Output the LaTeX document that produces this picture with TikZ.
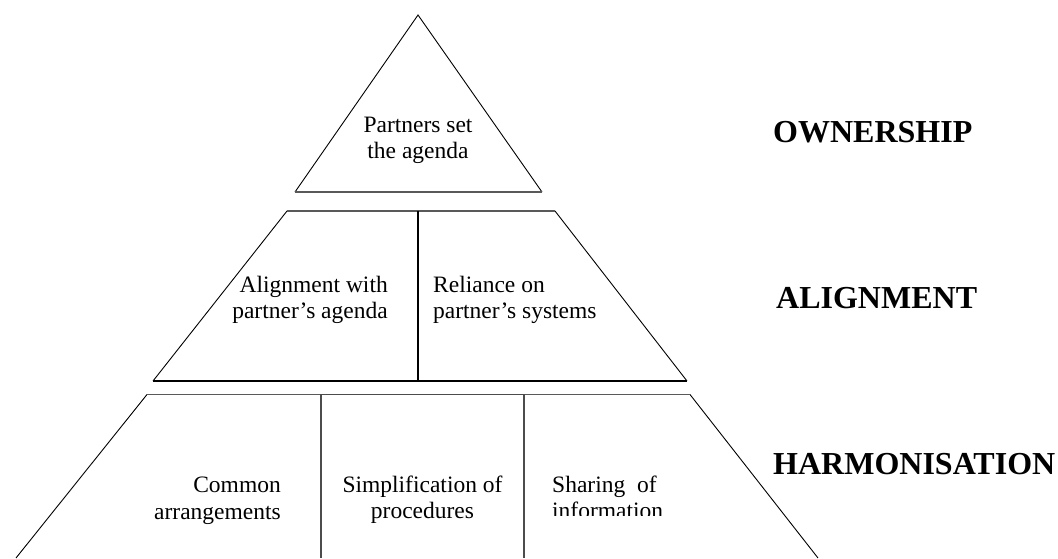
\documentclass[tikz,border=0pt]{standalone}
\usepackage{fontspec}
\setmainfont{Liberation Serif}
\newcommand{\mltext}[2]{\begin{tabular}[t]{@{}#1@{}}#2\end{tabular}}
\begin{document}
\begin{tikzpicture}[x=1pt,y=-1pt,
  slant/.style={draw=black,line width=0.9pt},
  flat/.style={draw=black!65,line width=1.6pt},
  divider/.style={draw=black,line width=2pt},
  cellbox/.style={draw=black!70,line width=1.4pt},
  celltext/.style={inner sep=0pt,font=\fontsize{23.5}{26}\selectfont},
  level/.style={inner sep=0pt,anchor=base west,font=\fontsize{32}{36}\selectfont\bfseries}]
\useasboundingbox (0,0) rectangle (1058,558);
% top triangle
\coordinate (apex) at (418,15);
\coordinate (tl) at (295,192);
\coordinate (tr) at (542,192);
\draw[slant] (tl) -- (apex) -- (tr);
\draw[flat] (tl) -- (tr);
% middle trapezoid
\coordinate (m1) at (287,211);
\coordinate (m2) at (555,211);
\coordinate (m3) at (687,381);
\coordinate (m4) at (153,381);
\coordinate (mdt) at (418,211);
\coordinate (mdb) at (418,381);
\draw[slant] (m1) -- (m4);
\draw[slant] (m2) -- (m3);
\draw[flat] (m1) -- (m2);
\draw[draw=black,line width=1.2pt] (m4) -- (m3);
\draw[divider] (mdt) -- (mdb);
% bottom trapezoid
\coordinate (b1) at (147,394.5);
\coordinate (b2) at (690,394.5);
\coordinate (b3) at (818,558);
\coordinate (b4) at (16,558);
\coordinate (r1) at (321,394.5);
\coordinate (r2) at (524,394.5);
\coordinate (r3) at (524,558);
\coordinate (r4) at (321,558);
\draw[slant] (b1) -- (b4);
\draw[slant] (b2) -- (b3);
\draw[flat] (b1) -- (b2);
\draw[cellbox] (r4) -- (r1) -- (r2) -- (r3);
% texts
\node[celltext,anchor=base] (own) at (418,132) {\mltext{c}{Partners set\\ the agenda}};
\node[celltext,anchor=base east] (ali) at (388,292) {\mltext{r}{Alignment with\\ partner’s agenda}};
\node[celltext,anchor=base west] (rel) at (433,292) {\mltext{l}{Reliance on\\ partner’s systems}};
\node[celltext,anchor=base east] (com) at (281,492) {\mltext{r}{Common\\[1pt] arrangements}};
\node[celltext,anchor=base] (sim) at (422.5,492) {\mltext{c}{Simplification of\\ procedures}};
\begin{scope}
\clip (530,400) rectangle (680,515);
\node[celltext,anchor=base west] (sha) at (552,492) {\mltext{l}{Sharing\ \ of\\ information}};
\end{scope}
\node[level] (lown) at (773,142) {OWNERSHIP};
\node[level] (lali) at (776,308) {ALIGNMENT};
\node[level] (lhar) at (773,474) {HARMONISATION};
\end{tikzpicture}
\end{document}
